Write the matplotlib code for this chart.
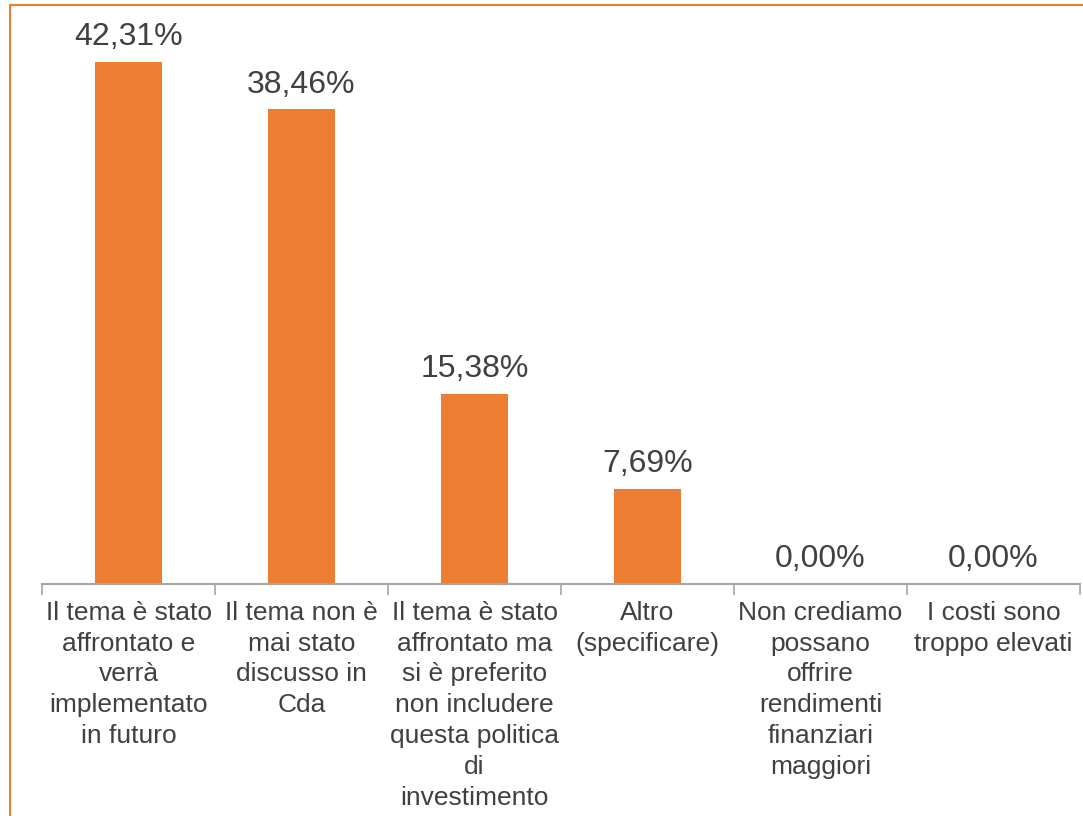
import matplotlib
matplotlib.use("Agg")
import matplotlib.pyplot as plt
from matplotlib.patches import Rectangle

# data
categories = [
    "Il tema è stato\naffrontato e\nverrà\nimplementato\nin futuro",
    "Il tema non è\nmai stato\ndiscusso in\nCda",
    "Il tema è stato\naffrontato ma\nsi è preferito\nnon includere\nquesta politica\ndi\ninvestimento",
    "Altro\n(specificare)",
    "Non crediamo\npossano\noffrire\nrendimenti\nfinanziari\nmaggiori",
    "I costi sono\ntroppo elevati",
]
values = [42.31, 38.46, 15.38, 7.69, 0.00, 0.00]

orange = "#ED7D31"
text_col = "#404040"
axis_col = "#A6A6A6"

plt.rcParams['font.family'] = ['Liberation Sans', 'DejaVu Sans']

fig = plt.figure(figsize=(10.83, 8.16), dpi=100)
ax = fig.add_axes([42 / 1083, (816 - 584) / 816, (1080 - 42) / 1083, (584 - 28.7) / 816])

x = list(range(len(values)))
bars = ax.bar(x, values, width=0.39, color=orange, zorder=2)

labels = [f"{v:.2f}%".replace(".", ",") for v in values]
ax.bar_label(bars, labels=labels, padding=7, fontsize=23, color=text_col)

ax.set_xlim(-0.5, len(values) - 0.5)
ax.set_ylim(0, 45)

ax.set_xticks(x)
ax.set_xticklabels(categories, fontsize=19, color=text_col, linespacing=1.36)
ax.tick_params(axis='x', which='major', length=0, pad=12)
ax.set_xticks([i - 0.5 for i in range(len(values) + 1)], minor=True)
ax.tick_params(axis='x', which='minor', length=8, width=1.2, color=axis_col)

ax.set_yticks([])
for side in ['top', 'right', 'left']:
    ax.spines[side].set_visible(False)
ax.spines['bottom'].set_color(axis_col)
ax.spines['bottom'].set_linewidth(1.5)

# orange frame round the chart
fig.patches.append(Rectangle((10 / 1083, -0.1), 1.2, 1.1 - 5 / 816, transform=fig.transFigure,
                             fill=False, edgecolor=orange, linewidth=1.5))

fig.savefig("out.png", dpi=100)
